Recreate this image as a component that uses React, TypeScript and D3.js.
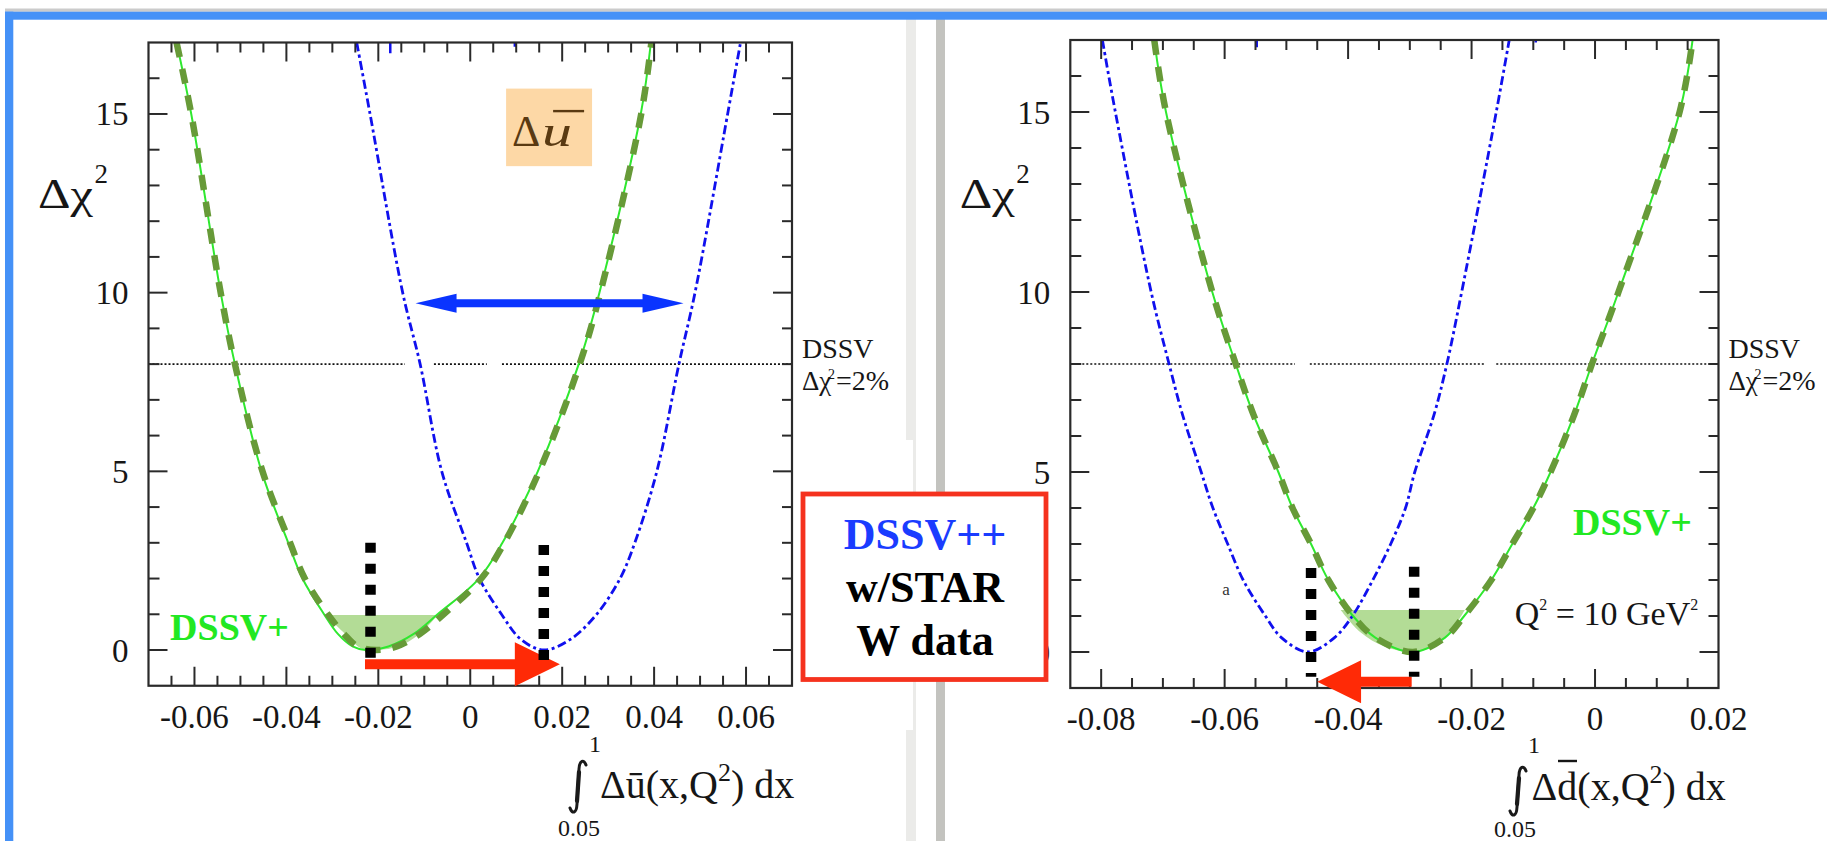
import React from 'react';
import * as d3 from 'd3';

type Pt = [number, number];

const WIDTH = 1827;
const HEIGHT = 841;
const SERIF = '"Liberation Serif", "Times New Roman", Times, serif';

// ---------------- data ----------------
const Y_DOMAIN: [number, number] = [-1, 17];
const yTickLabels = [0, 5, 10, 15];
const xTickLabelsLeft = [-0.06, -0.04, -0.02, 0, 0.02, 0.04, 0.06];
const xTickLabelsRight = [-0.08, -0.06, -0.04, -0.02, 0, 0.02];
const xDomainLeft: [number, number] = [-0.07, 0.07];
const xDomainRight: [number, number] = [-0.085, 0.02];

// Left panel: Delta u-bar
const dssvPlusThinLeft: Pt[] = [
  [-0.0639, 17], [-0.0607, 15], [-0.0543, 10], [-0.0512, 8], [-0.0454, 5], [-0.0396, 3],
  [-0.0365, 2], [-0.0318, 1], [-0.0288, 0.45], [-0.0256, 0.1], [-0.0228, 0], [-0.0178, 0.1],
  [-0.0123, 0.45], [-0.0071, 1], [0.0019, 2], [0.007, 3], [0.0147, 5], [0.0236, 8],
  [0.0281, 10], [0.0371, 15], [0.0393, 17],
];
const dssvPlusThickLeft: Pt[] = [
  [-0.0639, 17], [-0.0607, 15], [-0.0543, 10], [-0.0512, 8], [-0.0452, 5], [-0.0392, 3],
  [-0.036, 2], [-0.031, 1], [-0.0275, 0.45], [-0.0245, 0.1], [-0.0205, 0], [-0.016, 0.1],
  [-0.011, 0.45], [-0.0058, 1], [0.0024, 2], [0.0074, 3], [0.015, 5], [0.0238, 8],
  [0.0283, 10], [0.0372, 15], [0.0394, 17],
];
const dssvPPLeft: Pt[] = [
  [-0.0247, 17], [-0.0218, 15], [-0.0147, 10], [-0.0109, 8], [-0.0062, 5], [-0.0008, 3],
  [0.002, 2], [0.0068, 1], [0.011, 0.3], [0.016, 0], [0.0218, 0.3], [0.0275, 1],
  [0.0326, 2], [0.0358, 3], [0.0406, 5], [0.0454, 8], [0.0489, 10], [0.056, 15], [0.0588, 17],
];
const shadeLeft: Pt[] = [
  [-0.0315, 0.98], [-0.0268, 0.4], [-0.0238, 0.05], [-0.021, 0], [-0.0159, 0.09],
  [-0.011, 0.45], [-0.0071, 0.98],
];
const shadeLevelLeft = 0.98;
const gapsLeft: Pt[] = [[-0.0142, -0.0079], [0.0036, 0.0069]];
const minLinesLeft = [
  { x: -0.0217, c0: 3.0, c1: -0.26 },
  { x: 0.016, c0: 2.94, c1: -0.33 },
];
const shiftArrowLeft = { start: -0.0229, base: 0.0097, tip: 0.0195, c: -0.4 };
const widthArrowLeft = { tipA: -0.0119, tipB: 0.0464, c: 9.7 };
const stubsLeft = [{ x: -0.0174, c: 16.7 }, { x: 0.0097, c: 16.88 }];

// Right panel: Delta d-bar
const dssvPlusRight: Pt[] = [
  [-0.0714, 17], [-0.0695, 15], [-0.062, 10], [-0.0582, 8], [-0.0553, 6.58], [-0.0513, 5],
  [-0.049, 4], [-0.046, 3], [-0.0432, 2], [-0.0392, 1], [-0.0356, 0.4], [-0.0295, 0],
  [-0.0243, 0.4], [-0.0212, 1], [-0.0168, 2], [-0.0134, 3], [-0.01, 4], [-0.0072, 5],
  [-0.0034, 6.58], [-0.0005, 8], [0.0038, 10], [0.0137, 15], [0.0158, 17],
];
const dssvPPRight: Pt[] = [
  [-0.0798, 17], [-0.0777, 15], [-0.0719, 10], [-0.069, 8], [-0.0668, 6.58], [-0.0638, 5],
  [-0.0619, 4], [-0.0595, 3], [-0.057, 2], [-0.0534, 1], [-0.0508, 0.4], [-0.0465, 0],
  [-0.0422, 0.4], [-0.0393, 1], [-0.036, 2], [-0.0331, 3], [-0.0307, 4], [-0.0292, 5],
  [-0.0261, 6.58], [-0.024, 8], [-0.0216, 10], [-0.016, 15], [-0.0139, 17],
];
const shadeRight: Pt[] = [
  [-0.0412, 1.17], [-0.038, 0.55], [-0.0341, 0.15], [-0.0295, 0], [-0.0262, 0.15],
  [-0.0235, 0.55], [-0.0211, 1.17],
];
const shadeLevelRight = 1.17;
const gapsRight: Pt[] = [[-0.0486, -0.0462], [-0.018, -0.016]];
const minLinesRight = [
  { x: -0.046, c0: 2.33, c1: -0.69 },
  { x: -0.0293, c0: 2.37, c1: -0.69 },
];
const shiftArrowRight = { start: -0.0297, base: -0.0379, tip: -0.045, c: -0.825 };
const stubsRight = [{ x: -0.0548, c: 16.8 }, { x: -0.0096, c: 16.93 }];

const dssvLevel = 8;

// ---------------- helpers ----------------
const GREEN_THIN = '#2fe82f';
const GREEN_THICK = '#679a38';
const BLUE = '#1010ee';
const RED = '#ff2a06';
const SHADE = '#b3dc96';

function arrowPts(xs: number, xb: number, xt: number, yc: number, shaft: number, head: number) {
  return [
    [xs, yc - shaft / 2], [xb, yc - shaft / 2], [xb, yc - head / 2], [xt, yc],
    [xb, yc + head / 2], [xb, yc + shaft / 2], [xs, yc + shaft / 2],
  ].map(p => p.join(',')).join(' ');
}

function doubleArrowPts(xa: number, xbA: number, xbB: number, xB: number, yc: number, shaft: number, head: number) {
  return [
    [xa, yc], [xbA, yc - head / 2], [xbA, yc - shaft / 2], [xbB, yc - shaft / 2], [xbB, yc - head / 2],
    [xB, yc], [xbB, yc + head / 2], [xbB, yc + shaft / 2], [xbA, yc + shaft / 2], [xbA, yc + head / 2],
  ].map(p => p.join(',')).join(' ');
}

type Frame = { x0: number; x1: number; y0: number; y1: number };

interface PanelProps {
  id: string;
  frame: Frame;
  xDomain: [number, number];
  xLabels: number[];
  thin: Pt[];
  thick: Pt[];
  blue: Pt[];
  shade: Pt[];
  shadeLevel: number;
  gaps: Pt[];
  vLines: { x: number; c0: number; c1: number }[];
  arrow: { start: number; base: number; tip: number; c: number };
  arrowShaft: number;
  arrowHead: number;
  stubs: { x: number; c: number }[];
  extra?: (x: d3.ScaleLinear<number, number>, y: d3.ScaleLinear<number, number>) => React.ReactNode;
}

function Panel(p: PanelProps) {
  const { frame } = p;
  const x = d3.scaleLinear().domain(p.xDomain).range([frame.x0, frame.x1]);
  const y = d3.scaleLinear().domain(Y_DOMAIN).range([frame.y1, frame.y0]);
  const curve = d3.curveCatmullRom.alpha(0.5);
  const line = d3.line<Pt>().x(d => x(d[0])).y(d => y(d[1])).curve(curve);
  const area = d3.area<Pt>().x(d => x(d[0])).y0(y(p.shadeLevel)).y1(d => y(d[1])).curve(curve);

  const step = 0.005;
  const i0 = Math.ceil(p.xDomain[0] / step + 1e-6);
  const i1 = Math.floor(p.xDomain[1] / step - 1e-6);
  const xTicks = d3.range(i0, i1 + 1).map(i => ({ v: i * step, major: i % 4 === 0 }));
  const yTicks = d3.range(0, 17).map(c => ({ v: c, major: c % 5 === 0 }));

  const bounds = [p.xDomain[0], ...p.gaps.flat(), p.xDomain[1]];
  const segs: Pt[] = [];
  for (let k = 0; k < bounds.length; k += 2) segs.push([bounds[k], bounds[k + 1]]);

  const clipId = `clip-${p.id}`;
  const MAJ = 19, MIN = 10;
  const fmt = (v: number) => (Math.abs(v) < 1e-9 ? '0' : v.toFixed(2));

  const ac = y(p.arrow.c);

  return (
    <g>
      <defs>
        <clipPath id={clipId}>
          <rect x={frame.x0} y={frame.y0} width={frame.x1 - frame.x0} height={frame.y1 - frame.y0} />
        </clipPath>
      </defs>

      <g clipPath={`url(#${clipId})`}>
        <path d={area(p.shade) || ''} fill={SHADE} />
        {segs.map((s, k) => (
          <line key={k} x1={x(s[0])} x2={x(s[1])} y1={y(dssvLevel)} y2={y(dssvLevel)}
            stroke="#111" strokeWidth={1.7} strokeDasharray="2 2" />
        ))}
        <path d={line(p.blue) || ''} fill="none" stroke={BLUE} strokeWidth={2.8}
          strokeDasharray="9 3.5 3 3.5" />
        <path d={line(p.thin) || ''} fill="none" stroke={GREEN_THIN} strokeWidth={2} />
        <path d={line(p.thick) || ''} fill="none" stroke={GREEN_THICK} strokeWidth={6.5}
          strokeDasharray="15 12" />
        {p.stubs.map((s, k) => (
          <line key={k} x1={x(s.x)} x2={x(s.x)} y1={frame.y0} y2={y(s.c)} stroke={BLUE} strokeWidth={2.5} />
        ))}
      </g>

      {/* frame */}
      <rect x={frame.x0} y={frame.y0} width={frame.x1 - frame.x0} height={frame.y1 - frame.y0}
        fill="none" stroke="#2a2a2a" strokeWidth={2.2} />
      {xTicks.map((t, k) => (
        <g key={k} stroke="#2a2a2a" strokeWidth={2}>
          <line x1={x(t.v)} x2={x(t.v)} y1={frame.y1} y2={frame.y1 - (t.major ? MAJ : MIN)} />
          <line x1={x(t.v)} x2={x(t.v)} y1={frame.y0} y2={frame.y0 + (t.major ? MAJ : MIN)} />
        </g>
      ))}
      {yTicks.map((t, k) => (
        <g key={k} stroke="#2a2a2a" strokeWidth={2}>
          <line x1={frame.x0} x2={frame.x0 + (t.major ? MAJ : MIN + 1)} y1={y(t.v)} y2={y(t.v)} />
          <line x1={frame.x1} x2={frame.x1 - (t.major ? MAJ : MIN)} y1={y(t.v)} y2={y(t.v)} />
        </g>
      ))}
      {p.xLabels.map((v, k) => (
        <text key={k} x={x(v)} y={frame.y1 + 42} textAnchor="middle" fontFamily={SERIF}
          fontSize={33} fill="#161616">{fmt(v)}</text>
      ))}
      {yTickLabels.map((v, k) => (
        <text key={k} x={frame.x0 - 20} y={y(v) + 11.5} textAnchor="end" fontFamily={SERIF}
          fontSize={33} fill="#161616">{v}</text>
      ))}

      {/* y title */}
      <text x={frame.x0 - 110.5} y={208} fontFamily={SERIF} fontSize={42} fill="#161616"
        textLength={55} lengthAdjust="spacingAndGlyphs">Δχ</text>
      <text x={frame.x0 - 54} y={183} fontFamily={SERIF} fontSize={27} fill="#161616">2</text>

      {/* DSSV 2% label */}
      <text x={frame.x1 + 10} y={y(dssvLevel) - 6} fontFamily={SERIF} fontSize={28} fill="#161616">DSSV</text>
      <text x={frame.x1 + 10} y={y(dssvLevel) + 26} fontFamily={SERIF} fontSize={27} fill="#161616">Δχ</text>
      <text x={frame.x1 + 36} y={y(dssvLevel) + 15} fontFamily={SERIF} fontSize={14} fill="#161616">2</text>
      <text x={frame.x1 + 44} y={y(dssvLevel) + 26} fontFamily={SERIF} fontSize={28} fill="#161616">=2%</text>

      {/* shift arrow */}
      <polygon points={arrowPts(x(p.arrow.start), x(p.arrow.base), x(p.arrow.tip), ac, p.arrowShaft, p.arrowHead)}
        fill={RED} />

      {/* minimum markers */}
      {p.vLines.map((v, k) => (
        <line key={k} x1={x(v.x)} x2={x(v.x)} y1={y(v.c0)} y2={y(v.c1)} stroke="#000"
          strokeWidth={10.5} strokeDasharray="10 11" />
      ))}

      {p.extra ? p.extra(x, y) : null}
    </g>
  );
}

function IntegralSign({ x, top, bottom }: { x: number; top: number; bottom: number }) {
  const h = bottom - top;
  const d = `M ${x + 14} ${top + 5} C ${x + 12} ${top - 1}, ${x + 7.5} ${top}, ${x + 7} ${top + 9} ` +
    `L ${x + 5} ${top + h - 9} C ${x + 4.5} ${bottom + 1}, ${x} ${bottom + 1}, ${x - 2} ${bottom - 5}`;
  return (
    <g>
      <path d={d} fill="none" stroke="#1a1a1a" strokeWidth={3} strokeLinecap="round" />
      <path d={`M ${x + 7} ${top + 12} L ${x + 5} ${top + h - 12}`} stroke="#1a1a1a" strokeWidth={4.2}
        strokeLinecap="round" />
    </g>
  );
}

export default function App() {
  const leftFrame: Frame = { x0: 148.5, x1: 792, y0: 42.5, y1: 685.75 };
  const rightFrame: Frame = { x0: 1070.3, x1: 1718.5, y0: 40, y1: 688 };

  return (
    <svg width={WIDTH} height={HEIGHT} style={{ position: 'absolute', left: 0, top: 0, display: 'block' }}
      xmlns="http://www.w3.org/2000/svg">
      <rect x={0} y={0} width={WIDTH} height={HEIGHT} fill="#ffffff" />
      {/* window chrome */}
      <rect x={5} y={8.5} width={WIDTH - 5} height={3.3} fill="#cbcbcb" />
      <rect x={906} y={19} width={10} height={822} fill="#ebebe9" />
      <rect x={900} y={440} width={13} height={290} fill="#ffffff" />
      <rect x={936} y={19} width={9} height={822} fill="#c3c3bf" />
      <rect x={5} y={11.7} width={WIDTH - 5} height={8} fill="#4591f7" />
      <rect x={5} y={11.7} width={8.3} height={HEIGHT - 11.7} fill="#4591f7" />

      <Panel
        id="left"
        frame={leftFrame}
        xDomain={xDomainLeft}
        xLabels={xTickLabelsLeft}
        thin={dssvPlusThinLeft}
        thick={dssvPlusThickLeft}
        blue={dssvPPLeft}
        shade={shadeLeft}
        shadeLevel={shadeLevelLeft}
        gaps={gapsLeft}
        vLines={minLinesLeft}
        arrow={shiftArrowLeft}
        arrowShaft={10}
        arrowHead={44}
        stubs={stubsLeft}
        extra={(x, y) => {
          const yc = y(widthArrowLeft.c);
          const xa = x(widthArrowLeft.tipA);
          const xb = x(widthArrowLeft.tipB);
          const bx = x(0.0078);
          const by = y(15.71);
          return (
            <g>
              <polygon points={doubleArrowPts(xa, xa + 41, xb - 41, xb, yc, 8, 19)} fill="#0a34ff" />
              {/* Delta u-bar tag */}
              <rect x={bx} y={by} width={x(0.0265) - bx} height={y(13.54) - by} fill="#fdd8a6" />
              <text x={bx + 6} y={by + 57} fontFamily={SERIF} fontSize={44} fill="#5a3a12">Δ</text>
              <text x={bx + 36} y={by + 57} fontFamily={SERIF} fontSize={44} fontStyle="italic"
                fill="#5a3a12" textLength={30} lengthAdjust="spacingAndGlyphs">u</text>
              <line x1={bx + 47} x2={bx + 78} y1={by + 22.5} y2={by + 22.5}
                stroke="#5a3a12" strokeWidth={2.4} />
              {/* DSSV+ label */}
              <text x={x(-0.0653)} y={y(0.28)} fontFamily={SERIF} fontSize={38} fontWeight={700}
                fill="#22e822">DSSV+</text>
              {/* x title */}
              <IntegralSign x={572} top={760} bottom={813} />
              <text x={589} y={752} fontFamily={SERIF} fontSize={24} fill="#161616">1</text>
              <text x={558} y={836} fontFamily={SERIF} fontSize={24} fill="#161616">0.05</text>
              <text x={600} y={798} fontFamily={SERIF} fontSize={40} fill="#161616" style={{ whiteSpace: 'pre' }}>
                Δū(x,Q<tspan dy={-17} fontSize={26}>2</tspan><tspan dy={17}>) dx</tspan>
              </text>
            </g>
          );
        }}
      />

      <Panel
        id="right"
        frame={rightFrame}
        xDomain={xDomainRight}
        xLabels={xTickLabelsRight}
        thin={dssvPlusRight}
        thick={dssvPlusRight}
        blue={dssvPPRight}
        shade={shadeRight}
        shadeLevel={shadeLevelRight}
        gaps={gapsRight}
        vLines={minLinesRight}
        arrow={shiftArrowRight}
        arrowShaft={10}
        arrowHead={43}
        stubs={stubsRight}
        extra={(x, y) => (
          <g>
            <text x={x(-0.00356)} y={y(3.25)} fontFamily={SERIF} fontSize={38} fontWeight={700}
              fill="#22e822">DSSV+</text>
            <text x={x(-0.013)} y={y(0.75)} fontFamily={SERIF} fontSize={34} fill="#161616"
              style={{ whiteSpace: 'pre' }}>
              Q<tspan dy={-15} fontSize={16}>2</tspan><tspan dy={15}>{' = 10 GeV'}</tspan>
              <tspan dy={-15} fontSize={16}>2</tspan>
            </text>
            <text x={x(-0.0604)} y={y(1.58)} fontFamily={SERIF} fontSize={17} fill="#333">a</text>
            {/* x title */}
            <IntegralSign x={1512} top={766} bottom={816} />
            <text x={1528} y={753} fontFamily={SERIF} fontSize={24} fill="#161616">1</text>
            <text x={1494} y={837} fontFamily={SERIF} fontSize={24} fill="#161616">0.05</text>
            <text x={1531.6} y={800} fontFamily={SERIF} fontSize={40} fill="#161616" style={{ whiteSpace: 'pre' }}>
              Δd(x,Q<tspan dy={-17} fontSize={26}>2</tspan><tspan dy={17}>) dx</tspan>
            </text>
            <line x1={1558} x2={1577} y1={761} y2={761} stroke="#161616" strokeWidth={2.4} />
          </g>
        )}
      />

      {/* centre call-out */}
      <rect x={803} y={494} width={243} height={185.5} fill="#ffffff" stroke="#f5321e" strokeWidth={4.8} />
      <text x={925} y={549} textAnchor="middle" fontFamily={SERIF} fontSize={44} fontWeight={700}
        fill="#1a3cff">DSSV++</text>
      <text x={925} y={601.5} textAnchor="middle" fontFamily={SERIF} fontSize={44} fontWeight={700}
        fill="#000">w/STAR</text>
      <text x={925} y={655} textAnchor="middle" fontFamily={SERIF} fontSize={44} fontWeight={700}
        fill="#000">W data</text>
    </svg>
  );
}
